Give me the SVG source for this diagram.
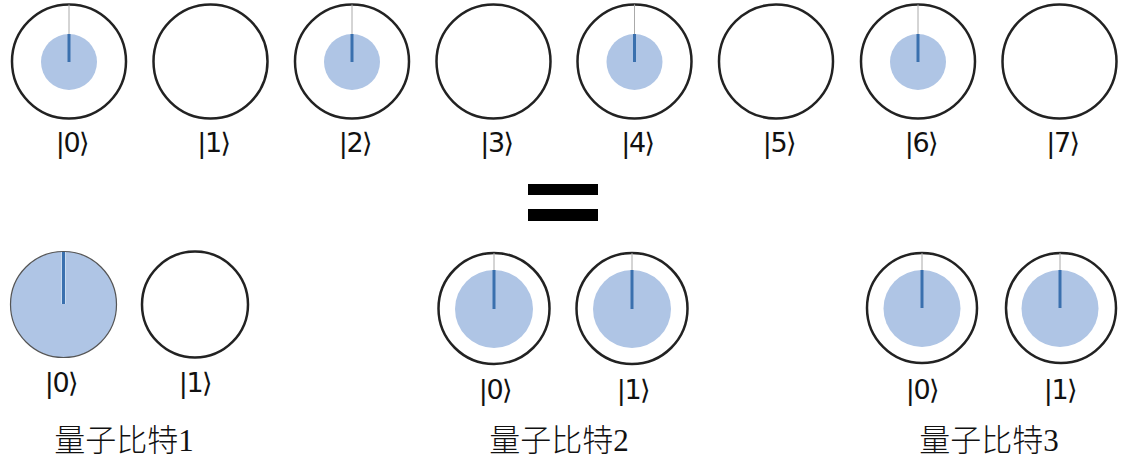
<svg xmlns="http://www.w3.org/2000/svg" width="1126" height="465" viewBox="0 0 1126 465">
<style>
.ring{fill:#fff;stroke:#222;stroke-width:2.5}
.amp{fill:#afc5e5}
.needle{stroke:#3a70ae;stroke-width:3}
.guide{stroke:#aaa;stroke-width:1}
.ket{font-family:"DejaVu Sans","Noto Sans",sans-serif;font-size:27px;fill:#111;text-anchor:middle;letter-spacing:-1.5px}
.cap{font-family:"Liberation Serif","Noto Sans CJK SC",serif;font-size:31px;font-weight:300;fill:#111;text-anchor:middle}
</style>
<rect width="1126" height="465" fill="#fff"/>
<g id="top-row">
<g id="s0"><circle class="ring" cx="69" cy="61.5" r="57"/><circle class="amp" cx="69" cy="62" r="28"/><line class="guide" x1="69" y1="4.5" x2="69" y2="34"/><line class="needle" x1="69" y1="34" x2="69" y2="62"/><text class="ket" x="72" y="152">|0⟩</text></g>
<g id="s1"><circle class="ring" cx="210.5" cy="61.5" r="57"/><text class="ket" x="213.5" y="152">|1⟩</text></g>
<g id="s2"><circle class="ring" cx="352" cy="61.5" r="57"/><circle class="amp" cx="352" cy="62" r="28"/><line class="guide" x1="352" y1="4.5" x2="352" y2="34"/><line class="needle" x1="352" y1="34" x2="352" y2="62"/><text class="ket" x="355" y="152">|2⟩</text></g>
<g id="s3"><circle class="ring" cx="493.5" cy="61.5" r="57"/><text class="ket" x="496.5" y="152">|3⟩</text></g>
<g id="s4"><circle class="ring" cx="634.5" cy="61.5" r="57"/><circle class="amp" cx="634.5" cy="62" r="28"/><line class="guide" x1="634.5" y1="4.5" x2="634.5" y2="34"/><line class="needle" x1="634.5" y1="34" x2="634.5" y2="62"/><text class="ket" x="637.5" y="152">|4⟩</text></g>
<g id="s5"><circle class="ring" cx="776" cy="61.5" r="57"/><text class="ket" x="779" y="152">|5⟩</text></g>
<g id="s6"><circle class="ring" cx="918" cy="61.5" r="57"/><circle class="amp" cx="918" cy="62" r="28"/><line class="guide" x1="918" y1="4.5" x2="918" y2="34"/><line class="needle" x1="918" y1="34" x2="918" y2="62"/><text class="ket" x="921" y="152">|6⟩</text></g>
<g id="s7"><circle class="ring" cx="1059.5" cy="61.5" r="57"/><text class="ket" x="1062.5" y="152">|7⟩</text></g>
</g>
<g id="equals"><rect x="528" y="184" width="70" height="11" fill="#000"/><rect x="528" y="209" width="70" height="12" fill="#000"/></g>
<g id="qubit1">
<circle cx="63.5" cy="304.5" r="53" fill="#afc5e5" stroke="#555" stroke-width="1.2"/>
<line x1="63.5" y1="252" x2="63.5" y2="304" stroke="#c9dbf0" stroke-width="5"/>
<line class="needle" x1="63.5" y1="252" x2="63.5" y2="304"/>
<circle class="ring" cx="195" cy="304.5" r="53"/>
<text class="ket" x="61" y="392">|0⟩</text>
<text class="ket" x="195" y="392">|1⟩</text>
<text class="cap" x="124" y="451">量子比特1</text>
</g>
<g id="qubit2">
<circle class="ring" cx="494" cy="308.5" r="55.5"/><circle class="amp" cx="494" cy="309" r="39"/><line class="guide" x1="494" y1="253" x2="494" y2="270"/><line class="needle" x1="494" y1="270" x2="494" y2="309"/>
<circle class="ring" cx="632" cy="308.5" r="55.5"/><circle class="amp" cx="632" cy="309" r="39"/><line class="guide" x1="632" y1="253" x2="632" y2="270"/><line class="needle" x1="632" y1="270" x2="632" y2="309"/>
<text class="ket" x="495" y="399">|0⟩</text>
<text class="ket" x="633" y="399">|1⟩</text>
<text class="cap" x="559" y="451">量子比特2</text>
</g>
<g id="qubit3">
<circle class="ring" cx="922" cy="308" r="55"/><circle class="amp" cx="922" cy="308.5" r="38.5"/><line class="guide" x1="922" y1="253" x2="922" y2="270"/><line class="needle" x1="922" y1="270" x2="922" y2="308"/>
<circle class="ring" cx="1061" cy="308" r="55"/><circle class="amp" cx="1060" cy="308.5" r="38.5"/><line class="guide" x1="1060" y1="253" x2="1060" y2="270"/><line class="needle" x1="1060" y1="270" x2="1060" y2="308"/>
<text class="ket" x="922" y="399">|0⟩</text>
<text class="ket" x="1060" y="399">|1⟩</text>
<text class="cap" x="989" y="451">量子比特3</text>
</g>
</svg>
